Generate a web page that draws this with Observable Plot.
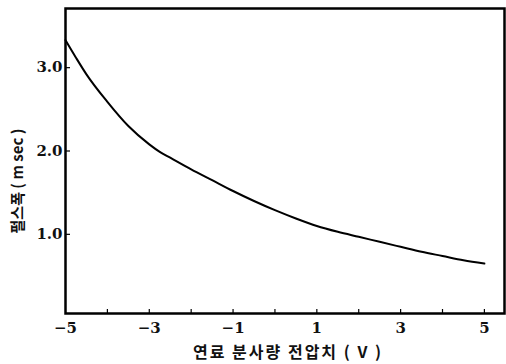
<!DOCTYPE html>
<html>
<head>
<meta charset="utf-8">
<script src="https://cdn.jsdelivr.net/npm/d3@7"></script>
<script src="https://cdn.jsdelivr.net/npm/@observablehq/plot@0.6"></script>
<style>
  body { margin: 0; background: #fff; }
  #chart { width: 506px; height: 364px; }
</style>
</head>
<body>
<div id="chart"></div>
<script>
const voltage = [-5, -4.75, -4.5, -4, -3.5, -3, -2.75, -2.5, -2, -1.5, -1, -0.5, 0, 0.5, 1, 1.5, 2, 2.5, 3, 3.5, 4, 4.5, 5];
const pulseWidth = [3.33, 3.12, 2.92, 2.59, 2.30, 2.08, 1.99, 1.92, 1.78, 1.65, 1.52, 1.40, 1.29, 1.19, 1.10, 1.03, 0.97, 0.91, 0.85, 0.79, 0.74, 0.69, 0.65];
const xTicks = [-5, -3, -1, 1, 3, 5];
const xMinorTicks = [-4, -3, -2, -1, 0, 1, 2, 3, 4, 5];
const yTicks = [1, 2, 3];
const xLabel = "연료 분사량 전압치 ( V )";
const yLabel = "펄스폭 ( m sec )";

const data = voltage.map((v, i) => ({v, w: pulseWidth[i]}));
const tickFont = "'DejaVu Serif', serif";
const krFont = "'Noto Sans CJK KR', sans-serif";

const chart = Plot.plot({
  width: 506,
  height: 364,
  marginLeft: 65,
  marginRight: 2,
  marginTop: 8,
  marginBottom: 51,
  x: {domain: [-5, 5.48]},
  y: {domain: [0.05, 3.71]},
  style: {fontFamily: tickFont, background: "#fff"},
  marks: [
    Plot.axisX(xMinorTicks, {tickSize: -4, tickFormat: () => "", strokeWidth: 1.2, label: null}),
    Plot.axisX(xTicks, {tickSize: 0, tickPadding: 9, tickFormat: d => d < 0 ? "−" + Math.abs(d) : String(d), fontSize: 15, fontWeight: "bold", fill: "#111", label: null}),
    Plot.axisY(yTicks, {tickSize: -5, tickPadding: 8, tickFormat: d => d.toFixed(1), fontSize: 15, fontWeight: "bold", fill: "#111", strokeWidth: 1.2, label: null}),
    Plot.frame({stroke: "#000", strokeWidth: 2.5}),
    Plot.line(data, {x: "v", y: "w", stroke: "#000", strokeWidth: 2, curve: "monotone-x"}),
    Plot.text([xLabel], {frameAnchor: "bottom", textAnchor: "middle", dy: 44, dx: 3, fontFamily: krFont, fontSize: 16, fontWeight: "bold", fill: "#111"}),
    Plot.text([yLabel], {frameAnchor: "left", textAnchor: "middle", dx: -47, dy: 20, rotate: -90, fontFamily: krFont, fontSize: 15, fontWeight: "bold", fill: "#111"})
  ]
});
d3.select(chart).selectAll("text").filter(function() { return this.textContent === xLabel; }).style("letter-spacing", "2px");
document.getElementById("chart").append(chart);
</script>
</body>
</html>
